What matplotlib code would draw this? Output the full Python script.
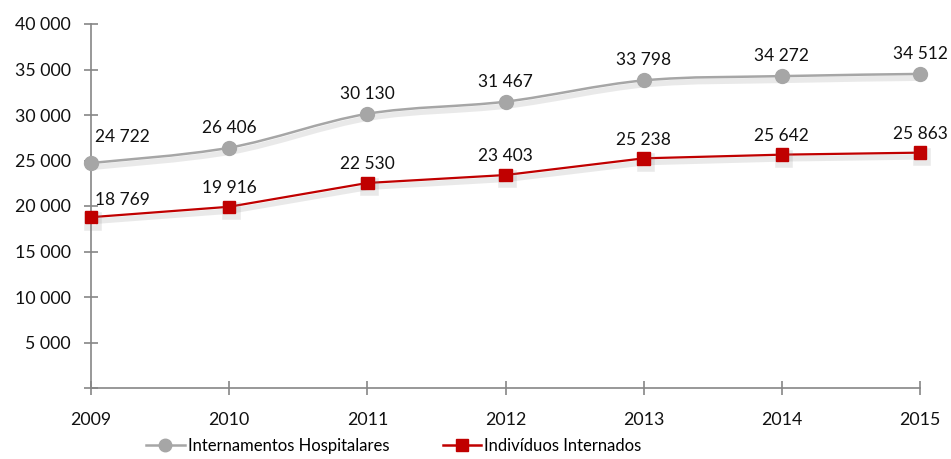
import matplotlib
matplotlib.use("Agg")
import matplotlib.pyplot as plt
from matplotlib.path import Path
from matplotlib.patches import PathPatch
from matplotlib.lines import Line2D
import matplotlib.patheffects as pe

years = [2009, 2010, 2011, 2012, 2013, 2014, 2015]
internamentos = [24722, 26406, 30130, 31467, 33798, 34272, 34512]
individuos = [18769, 19916, 22530, 23403, 25238, 25642, 25863]
series_names = ["Internamentos Hospitalares", "Indivíduos Internados"]
y_ticks = [0, 5000, 10000, 15000, 20000, 25000, 30000, 35000, 40000]

plt.rcParams['font.family'] = ['Lato', 'DejaVu Sans']

GRAY = "#A6A6A6"
RED = "#C00000"
AXC = "#868686"
TXT = "#111111"

fig = plt.figure(figsize=(9.51, 4.59), dpi=100)
ax = fig.add_axes([91/951, 1-388/459, (920-91)/951, (388-24)/459])


def smooth_path(xs, ys):
    n = len(xs)
    verts = [(xs[0], ys[0])]
    codes = [Path.MOVETO]
    for i in range(n - 1):
        x0, y0 = (xs[i-1], ys[i-1]) if i > 0 else (xs[i], ys[i])
        x1, y1 = xs[i], ys[i]
        x2, y2 = xs[i+1], ys[i+1]
        x3, y3 = (xs[i+2], ys[i+2]) if i + 2 < n else (xs[i+1], ys[i+1])
        c1 = (x1 + (x2 - x0) / 6, y1 + (y2 - y0) / 6)
        c2 = (x2 - (x3 - x1) / 6, y2 - (y3 - y1) / 6)
        verts += [c1, c2, (x2, y2)]
        codes += [Path.CURVE4] * 3
    return Path(verts, codes)


shadow = [pe.SimpleLineShadow(offset=(1.5, -3), shadow_color="#888888", alpha=0.18, linewidth=4),
          pe.Normal()]

# gray series: smoothed line
patch = PathPatch(smooth_path(years, internamentos), facecolor="none", edgecolor=GRAY,
                  linewidth=1.8, zorder=2, clip_on=False)
patch.set_path_effects(shadow)
ax.add_patch(patch)
ax.plot(years, internamentos, linestyle="none", marker="o", markersize=10, color=GRAY,
        zorder=3, clip_on=False)

# red series: straight line
ax.plot(years, individuos, linestyle="-", linewidth=1.6, marker="s", markersize=9,
        color=RED, zorder=3, clip_on=False, path_effects=shadow)


def fmt(v):
    return f"{v:,.0f}".replace(",", " ")


for vals, off, off0 in [(internamentos, 14.5, 18.5), (individuos, 13.5, 12.5)]:
    for i, (x, v) in enumerate(zip(years, vals)):
        if i == 0:
            ax.annotate(fmt(v), (x, v), xytext=(3, off0), textcoords="offset points",
                        ha="left", va="center", fontsize=12.5, color=TXT, annotation_clip=False)
        else:
            ax.annotate(fmt(v), (x, v), xytext=(0, off), textcoords="offset points",
                        ha="center", va="center", fontsize=12.5, color=TXT, annotation_clip=False)

ax.set_xlim(2009, 2015)
ax.set_ylim(0, 40000)
ax.set_yticks(y_ticks)
ax.set_yticklabels(["" if t == 0 else fmt(t) for t in y_ticks])
ax.set_xticks(years)
ax.set_xticklabels([str(y) for y in years])

for s in ["top", "right"]:
    ax.spines[s].set_visible(False)
for s in ["left", "bottom"]:
    ax.spines[s].set_color(AXC)
    ax.spines[s].set_linewidth(1.2)
ax.tick_params(axis="both", direction="inout", length=10, width=1.2, color=AXC,
               labelsize=12.8, labelcolor=TXT)
ax.tick_params(axis="y", pad=9.5)
ax.tick_params(axis="x", pad=12)

handles = [Line2D([], [], color=GRAY, marker="o", markersize=9, linewidth=1.8),
           Line2D([], [], color=RED, marker="s", markersize=8, linewidth=1.8)]
fig.legend(handles, series_names, loc="center", bbox_to_anchor=(394/951, 1-446/459),
           ncol=2, frameon=False, fontsize=12, handlelength=2.3, handletextpad=0.2,
           columnspacing=3.2, borderaxespad=0)

fig.savefig("out.png", dpi=100)
